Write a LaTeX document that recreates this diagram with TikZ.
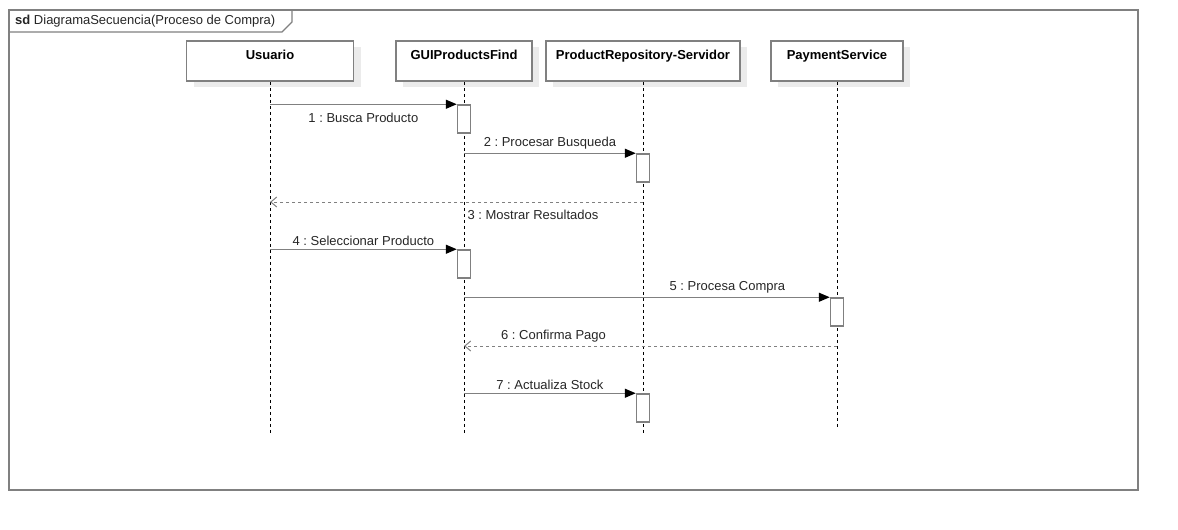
\documentclass[tikz,border=0pt]{standalone}
\usepackage{fontspec}
\setmainfont{Liberation Sans}
\usetikzlibrary{arrows.meta,shadows}
\frenchspacing

\begin{document}
\begin{tikzpicture}[x=1pt, y=-1pt, font=\fontsize{13}{15}\selectfont,
    obj/.style={draw=gray, line width=1.5pt, fill=white, text height=10pt, text depth=14pt,
        inner sep=0pt, minimum height=40pt, font=\fontsize{13}{15}\selectfont\bfseries,
        drop shadow={shadow xshift=7pt, shadow yshift=-6pt, fill=black!8, opacity=1}},
    act/.style={draw=gray, line width=1.5pt, fill=white, minimum width=13pt, minimum height=28pt, inner sep=0pt},
    vida/.style={dash pattern=on 3pt off 3pt, line width=0.8pt},
    msg/.style={draw=gray, line width=1.4pt, -{Triangle[length=11pt,width=9pt,black]}},
    ret/.style={draw=gray, line width=1pt, dash pattern=on 3pt off 3pt, -{Straight Barb[length=6pt,width=10pt]}},
    lbl/.style={text=black!85, inner sep=3pt}]
    \useasboundingbox (0,0) rectangle (1178,530);

    % marco
    \draw[gray, line width=1.5pt] (9,10) rectangle (1138,490);
    \draw[gray, line width=1.2pt] (9,32) -- (282,32) -- (292,22) -- (292,10);
    \node[anchor=west, inner sep=0pt, text=black!85] (titulo) at (15,21) {\textbf{sd} DiagramaSecuencia(Proceso de Compra)};

    % participantes
    \node[obj, minimum width=167pt] (usuario) at (270,61) {Usuario};
    \node[obj, minimum width=136pt] (gui) at (464,61) {GUIProductsFind};
    \node[obj, minimum width=194pt] (repo) at (643,61) {ProductRepository-Servidor};
    \node[obj, minimum width=132pt] (pago) at (837,61) {PaymentService};

    % lineas de vida
    \foreach \p in {usuario,gui,repo}
        \draw[vida] (\p.south) -- ++(0,351);
    \draw[vida] (pago.south) -- ++(0,346);

    % activaciones
    \node[act] (a1) at (464,119) {};
    \node[act] (a2) at (643,168) {};
    \node[act] (a4) at (464,264) {};
    \node[act] (a5) at (837,312) {};
    \node[act] (a7) at (643,408) {};
    \coordinate (r3) at (643,202);
    \coordinate (r6) at (837,346);

    % mensajes
    \draw[msg] (usuario |- a1.north west) -- node[lbl, below=5pt] {1 : Busca Producto} (a1.north west);
    \draw[msg] (gui |- a2.north west) -- node[lbl, above] {2 : Procesar Busqueda} (a2.north west);
    \draw[ret] (r3) -- node[lbl, below=5pt, pos=0.295] {3 : Mostrar Resultados} (usuario |- r3);
    \draw[msg] (usuario |- a4.north west) -- node[lbl, above] {4 : Seleccionar Producto} (a4.north west);
    \draw[msg] (gui |- a5.north west) -- node[lbl, above, pos=0.72] {5 : Procesa Compra} (a5.north west);
    \draw[ret] (r6) -- node[lbl, above, pos=0.76] {6 : Confirma Pago} (gui |- r6);
    \draw[msg] (gui |- a7.north west) -- node[lbl, above] {7 : Actualiza Stock} (a7.north west);
\end{tikzpicture}
\end{document}
